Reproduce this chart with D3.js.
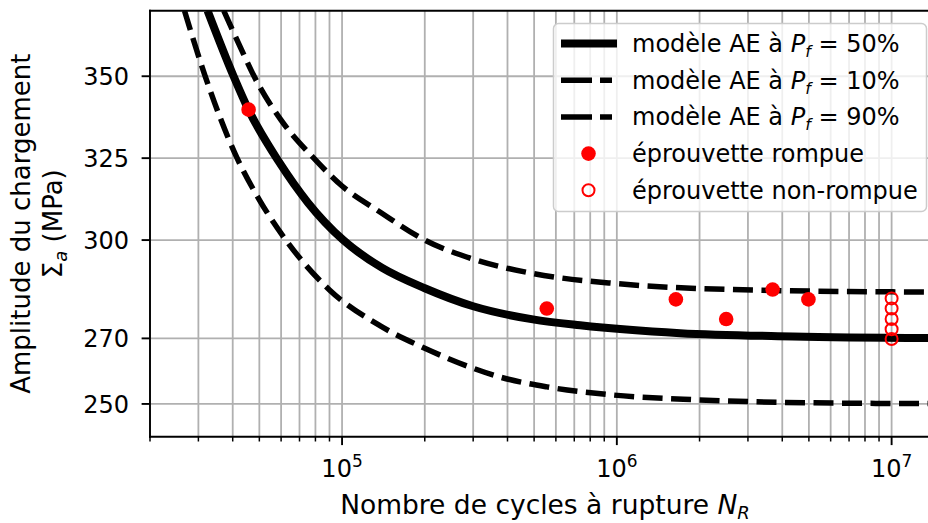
<!DOCTYPE html>
<html>
<head>
<meta charset="utf-8">
<script src="https://cdn.jsdelivr.net/npm/d3@7"></script>
<style>
  body { margin: 0; background: #fff; }
  text { font-family: 'DejaVu Sans', sans-serif; fill: #000; }
</style>
</head>
<body>
<script>
const modelP50 = [[32400, 370], [40300, 350], [45700, 339.7], [58800, 324], [75000, 311.5],
  [101000, 300], [140000, 291.5], [200000, 285.3], [300000, 279.8], [495000, 275.8],
  [735000, 274], [1700000, 271.6], [4370000, 270.6], [15000000, 270.1]]
const modelP10 = [[26700, 370], [31700, 350.2], [41500, 325], [50000, 312.3], [63100, 299.5],
  [90000, 284.8], [137800, 273.8], [200000, 267], [300000, 260.9], [376000, 258.2],
  [557000, 255.2], [946000, 252.8], [1900000, 251.3], [3830000, 250.5], [7670000, 250.2],
  [15000000, 250.1]]
const modelP90 = [[37100, 370], [44500, 355.5], [47700, 350.2], [60000, 336.6], [78900, 325],
  [100000, 316.5], [137800, 308.5], [200000, 300], [300000, 294.2], [495000, 289.8],
  [970000, 286.8], [1560000, 285.6], [3320000, 284.7], [10100000, 284.2], [15000000, 284.1]]
const broken = [[45700, 339.8], [556000, 279.1], [1640000, 281.9], [2500000, 275.9],
  [3690000, 284.9], [4980000, 281.9]]
const runout = [[10000000, 282.2], [10000000, 279.1], [10000000, 275.9], [10000000, 272.8],
  [10000000, 269.8]]

const xDomain = [2e4, 1.5e7]
const yDomain = [240, 370]
const xMajorTicks = [1e5, 1e6, 1e7]
const yTicks = [250, 270, 300, 325, 350]
const legendLabels = ['50%', '10%', '90%']

const width = 928, height = 523
const plotLeft = 150, plotRight = 940, plotTop = 10.7, plotBottom = 436.7
const gridColor = '#b0b0b0'

let svg = d3.select('body').append('svg')
  .attr('width', width)
  .attr('height', height)

let x = d3.scaleLog().domain(xDomain).range([plotLeft, plotRight])
let y = d3.scaleLinear().domain(yDomain).range([plotBottom, plotTop])

svg.append('defs').append('clipPath').attr('id', 'plotClip')
  .append('rect')
  .attr('x', plotLeft).attr('y', plotTop)
  .attr('width', plotRight - plotLeft).attr('height', plotBottom - plotTop)

// grid (major + minor vertical, major horizontal)
let allXTicks = x.ticks()
let grid = svg.append('g').attr('id', 'grid')
grid.selectAll('.vgrid').data(allXTicks).enter().append('line')
  .attr('class', 'vgrid')
  .attr('x1', d => x(d)).attr('x2', d => x(d))
  .attr('y1', plotTop).attr('y2', plotBottom)
  .style('stroke', gridColor).style('stroke-width', 1.8)
grid.selectAll('.hgrid').data(yTicks).enter().append('line')
  .attr('class', 'hgrid')
  .attr('x1', plotLeft).attr('x2', plotRight)
  .attr('y1', d => y(d)).attr('y2', d => y(d))
  .style('stroke', gridColor).style('stroke-width', 1.8)

// model curves
let line = d3.line().x(d => x(d[0])).y(d => y(d[1])).curve(d3.curveMonotoneX)
let curves = svg.append('g').attr('clip-path', 'url(#plotClip)')
const dashPattern = '20,8.5'
curves.append('path').datum(modelP10)
  .attr('d', line).style('fill', 'none').style('stroke', '#000')
  .style('stroke-width', 5.5).style('stroke-dasharray', dashPattern)
curves.append('path').datum(modelP90)
  .attr('d', line).style('fill', 'none').style('stroke', '#000')
  .style('stroke-width', 5.5).style('stroke-dasharray', dashPattern)
curves.append('path').datum(modelP50)
  .attr('d', line).style('fill', 'none').style('stroke', '#000')
  .style('stroke-width', 8)

// specimens
curves.selectAll('.broken').data(broken).enter().append('circle')
  .attr('class', 'broken')
  .attr('cx', d => x(d[0])).attr('cy', d => y(d[1])).attr('r', 7.3)
  .style('fill', '#ff0000')
curves.selectAll('.runout').data(runout).enter().append('circle')
  .attr('class', 'runout')
  .attr('cx', d => x(d[0])).attr('cy', d => y(d[1])).attr('r', 6)
  .style('fill', 'none').style('stroke', '#ff0000').style('stroke-width', 2)

// spines
let spines = svg.append('g')
spines.append('line').attr('x1', plotLeft).attr('x2', plotLeft).attr('y1', plotTop).attr('y2', plotBottom)
spines.append('line').attr('x1', plotLeft).attr('x2', plotRight).attr('y1', plotBottom).attr('y2', plotBottom)
spines.append('line').attr('x1', plotLeft).attr('x2', plotRight).attr('y1', plotTop).attr('y2', plotTop)
spines.append('line').attr('x1', plotRight).attr('x2', plotRight).attr('y1', plotTop).attr('y2', plotBottom)
spines.selectAll('line').style('stroke', '#000').style('stroke-width', 1.9).style('stroke-linecap', 'square')

// x ticks
let xAxis = svg.append('g')
xAxis.selectAll('.minor').data(allXTicks.filter(d => !xMajorTicks.includes(d))).enter().append('line')
  .attr('x1', d => x(d)).attr('x2', d => x(d))
  .attr('y1', plotBottom).attr('y2', plotBottom + 4.8)
  .style('stroke', '#000').style('stroke-width', 1.5)
xAxis.selectAll('.major').data(xMajorTicks).enter().append('line')
  .attr('x1', d => x(d)).attr('x2', d => x(d))
  .attr('y1', plotBottom).attr('y2', plotBottom + 8.4)
  .style('stroke', '#000').style('stroke-width', 1.9)
let xLabels = xAxis.selectAll('.xlab').data(xMajorTicks).enter().append('text')
  .attr('x', d => x(d)).attr('y', 477)
  .attr('text-anchor', 'middle')
  .style('font-size', '24px')
xLabels.append('tspan').text('10')
xLabels.append('tspan').attr('dy', -10).style('font-size', '17px').text(d => Math.round(Math.log10(d)))

// y ticks
let yAxis = svg.append('g')
yAxis.selectAll('.ytick').data(yTicks).enter().append('line')
  .attr('x1', plotLeft - 8.4).attr('x2', plotLeft)
  .attr('y1', d => y(d)).attr('y2', d => y(d))
  .style('stroke', '#000').style('stroke-width', 1.9)
yAxis.selectAll('.ylab').data(yTicks).enter().append('text')
  .attr('x', 129).attr('y', d => y(d) + 8.8)
  .attr('text-anchor', 'end')
  .style('font-size', '24px')
  .text(d => d)

// axis titles
let xTitle = svg.append('text')
  .attr('x', (plotLeft + plotRight) / 2).attr('y', 514)
  .attr('text-anchor', 'middle').style('font-size', '26.5px')
xTitle.append('tspan').text('Nombre de cycles à rupture ')
xTitle.append('tspan').style('font-style', 'italic').text('N')
xTitle.append('tspan').style('font-style', 'italic').style('font-size', '18px').attr('dy', 5).text('R')

let yMid = (plotTop + plotBottom) / 2
svg.append('text')
  .attr('transform', `translate(30, ${yMid})rotate(-90)`)
  .attr('text-anchor', 'middle').style('font-size', '26px')
  .text('Amplitude du chargement')
let yTitle2 = svg.append('text')
  .attr('transform', `translate(62, ${yMid})rotate(-90)`)
  .attr('text-anchor', 'middle').style('font-size', '26px')
yTitle2.append('tspan').text('Σ')
yTitle2.append('tspan').style('font-style', 'italic').style('font-size', '18px').attr('dy', 5).text('a')
yTitle2.append('tspan').attr('dy', -5).text(' (MPa)')

// legend
let legend = svg.append('g').attr('id', 'legend')
legend.append('rect')
  .attr('x', 553.5).attr('y', 23.5).attr('width', 373).attr('height', 188)
  .attr('rx', 5)
  .style('fill', '#fff').style('fill-opacity', 0.8)
  .style('stroke', '#cccccc').style('stroke-width', 1.5)
const rowY = i => 43.5 + i * 36.7
legendLabels.forEach((lab, i) => {
  legend.append('line')
    .attr('x1', 561).attr('x2', 617).attr('y1', rowY(i)).attr('y2', rowY(i))
    .style('stroke', '#000').style('stroke-width', i === 0 ? 8 : 5.5)
    .style('stroke-dasharray', i === 0 ? null : '31,8,12,20')
  let t = legend.append('text').attr('x', 632).attr('y', rowY(i) + 8.5).style('font-size', '24px')
  t.append('tspan').text('modèle AE à ')
  t.append('tspan').style('font-style', 'italic').text('P')
  t.append('tspan').style('font-style', 'italic').style('font-size', '16px').attr('dy', 5).text('f')
  t.append('tspan').attr('dy', -5).text(' = ' + lab)
})
legend.append('circle').attr('cx', 588.5).attr('cy', rowY(3)).attr('r', 7.3).style('fill', '#ff0000')
legend.append('text').attr('x', 632).attr('y', rowY(3) + 8.5).style('font-size', '24px').text('éprouvette rompue')
legend.append('circle').attr('cx', 588.5).attr('cy', rowY(4)).attr('r', 6)
  .style('fill', 'none').style('stroke', '#ff0000').style('stroke-width', 2)
legend.append('text').attr('x', 632).attr('y', rowY(4) + 8.5).style('font-size', '24px').text('éprouvette non-rompue')
</script>
</body>
</html>
